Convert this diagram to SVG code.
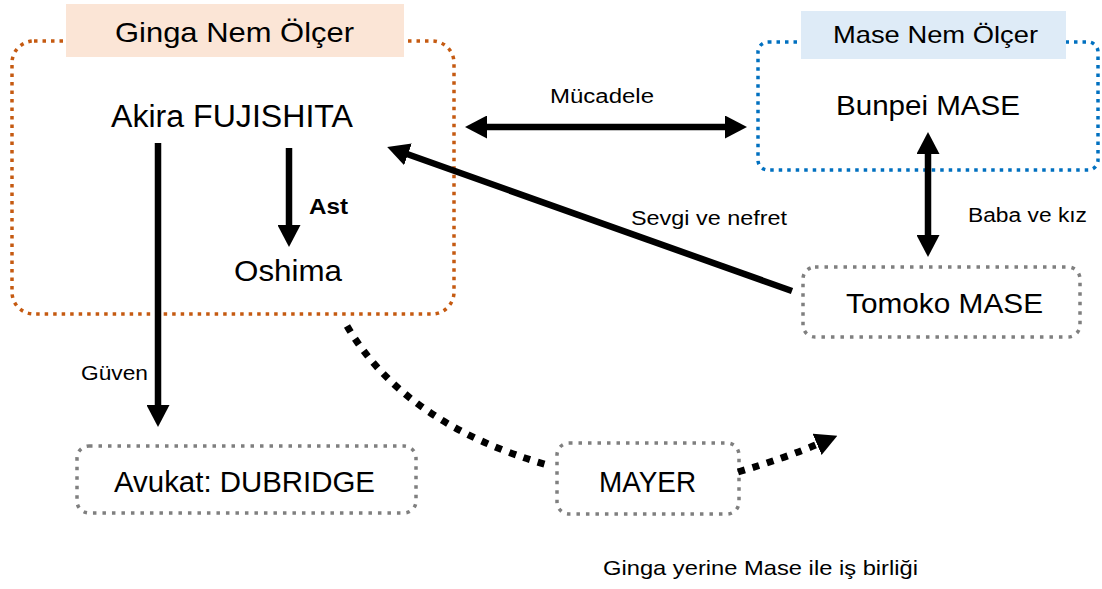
<svg xmlns="http://www.w3.org/2000/svg" width="1102" height="589" viewBox="0 0 1102 589">
  <style>
    .t { font-family: "Liberation Sans", Arial, sans-serif; fill: #000; }
    .box { fill: none; stroke-width: 3.5; stroke-linecap: butt; }
    .orange { stroke: #C55A11; stroke-dasharray: 3.5 5; }
    .blue { stroke: #0070C0; stroke-dasharray: 3.5 5; }
    .gray { stroke: #7F7F7F; stroke-dasharray: 3.5 6; }
    .solid { fill: none; stroke: #000; stroke-width: 6.5; }
    .dots { fill: none; stroke: #000; stroke-width: 7; stroke-dasharray: 7 8; }
  </style>
  <defs>
    <marker id="ah" viewBox="0 0 22 23" refX="1" refY="11.5" markerWidth="22" markerHeight="23" markerUnits="userSpaceOnUse" orient="auto-start-reverse">
      <path d="M0,0 L22,11.5 L0,23 Z" fill="#000"/>
    </marker>
  </defs>

  <rect width="1102" height="589" fill="#fff"/>

  <g id="ginga-group">
    <rect class="box orange" x="12" y="41" width="442" height="273" rx="22"/>
    <rect x="66" y="4" width="338" height="53" fill="#FBE5D6"/>
    <text class="t" x="115" y="42" font-size="28" textLength="239" lengthAdjust="spacingAndGlyphs">Ginga Nem Ölçer</text>
  </g>

  <g id="mase-group">
    <rect class="box blue" x="758" y="42" width="340" height="128" rx="10"/>
    <rect x="801" y="11" width="265" height="48" fill="#DEEBF7"/>
    <text class="t" x="833" y="43" font-size="24" textLength="205" lengthAdjust="spacingAndGlyphs">Mase Nem Ölçer</text>
  </g>

  <g id="akira">
    <text class="t" x="111" y="127" font-size="31" textLength="242" lengthAdjust="spacingAndGlyphs">Akira FUJISHITA</text>
  </g>
  <g id="oshima">
    <text class="t" x="234" y="281" font-size="29" textLength="108" lengthAdjust="spacingAndGlyphs">Oshima</text>
  </g>
  <g id="bunpei">
    <text class="t" x="836" y="115" font-size="28" textLength="184" lengthAdjust="spacingAndGlyphs">Bunpei MASE</text>
  </g>
  <g id="tomoko">
    <rect class="box gray" x="803" y="267" width="277" height="70" rx="12"/>
    <text class="t" x="846" y="313" font-size="28" textLength="197" lengthAdjust="spacingAndGlyphs">Tomoko MASE</text>
  </g>
  <g id="dubridge">
    <rect class="box gray" x="77" y="446" width="339" height="67" rx="12"/>
    <text class="t" x="114" y="492" font-size="29" textLength="261" lengthAdjust="spacingAndGlyphs">Avukat: DUBRIDGE</text>
  </g>
  <g id="mayer">
    <rect class="box gray" x="557" y="443" width="182" height="71" rx="12"/>
    <text class="t" x="599" y="492" font-size="29" textLength="97" lengthAdjust="spacingAndGlyphs">MAYER</text>
  </g>

  <g id="connectors">
    <line class="solid" x1="158" y1="143" x2="158" y2="406" marker-end="url(#ah)"/>
    <line class="solid" x1="289" y1="148" x2="289" y2="226" marker-end="url(#ah)"/>
    <line class="solid" x1="486" y1="127" x2="726" y2="127" marker-start="url(#ah)" marker-end="url(#ah)"/>
    <line class="solid" x1="928" y1="153" x2="928" y2="236" marker-start="url(#ah)" marker-end="url(#ah)"/>
    <line class="solid" x1="792" y1="291" x2="407" y2="154" marker-end="url(#ah)"/>
    <path class="dots" d="M347,326 Q405,425 551,466"/>
    <path class="dots" d="M738,472 Q785,458 818,444" marker-end="url(#ah)"/>
  </g>

  <g id="labels">
    <text class="t" x="81" y="380" font-size="20" textLength="67" lengthAdjust="spacingAndGlyphs">Güven</text>
    <text class="t" x="309" y="214" font-size="22" font-weight="bold" textLength="39" lengthAdjust="spacingAndGlyphs">Ast</text>
    <text class="t" x="550" y="103" font-size="20" textLength="104" lengthAdjust="spacingAndGlyphs">Mücadele</text>
    <text class="t" x="631" y="225" font-size="20" textLength="156" lengthAdjust="spacingAndGlyphs">Sevgi ve nefret</text>
    <text class="t" x="968" y="222" font-size="20" textLength="119" lengthAdjust="spacingAndGlyphs">Baba ve kız</text>
    <text class="t" x="603" y="575" font-size="21" textLength="315" lengthAdjust="spacingAndGlyphs">Ginga yerine Mase ile iş birliği</text>
  </g>
</svg>
